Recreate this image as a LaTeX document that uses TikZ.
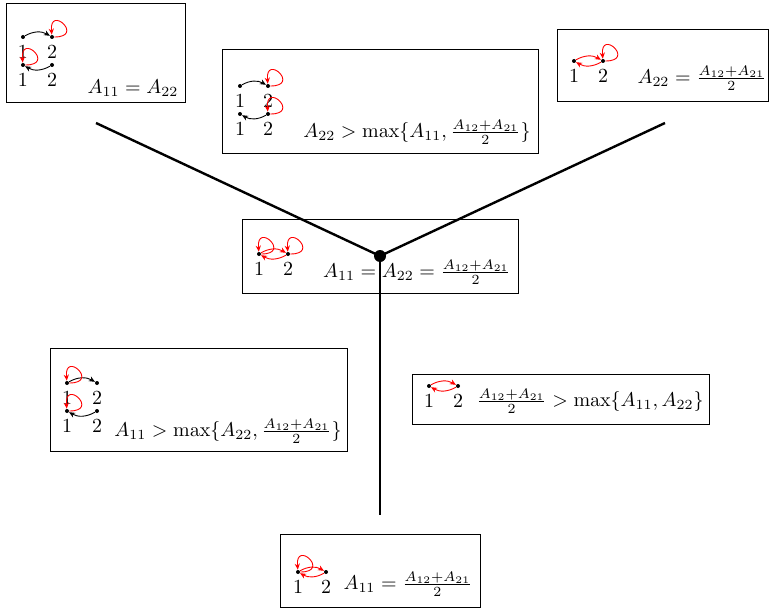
\documentclass[tikz,border=0pt]{standalone}
\usetikzlibrary{arrows.meta}
\begin{document}
\begin{tikzpicture}[x=0.5pt,y=0.5pt,
  panel/.style={draw,line width=0.5pt},
  dot/.style={circle,fill=black,inner sep=0pt,minimum size=2pt},
  lab/.style={inner sep=2.5pt},
  arc/.style={-{Stealth[length=3pt,width=2.6pt]},line width=0.45pt,bend left=30},
  barc/.style={arc,black},
  rarc/.style={arc,red},
  rloop/.style={-{Stealth[length=3pt,width=2.6pt]},line width=0.45pt,red},
  hubline/.style={line width=1.2pt},
  cond/.style={inner sep=0pt}]
\useasboundingbox (0,0) rectangle (770,-610);
% panels
\draw[panel] (6,-4) rectangle (185,-103);
\draw[panel] (222,-50) rectangle (538,-153);
\draw[panel] (557,-30) rectangle (768,-102);
\draw[panel] (242,-219) rectangle (518,-293);
\draw[panel] (50,-348) rectangle (347,-451);
\draw[panel] (412,-374) rectangle (709,-424);
\draw[panel] (280,-534) rectangle (480,-607);
% dot pairs
\newcommand\gpair[5]{%
  \node[dot,label={[lab,name=#1la]below:1}] (#1a) at (#2,-#3) {};
  \node[dot,label={[lab,name=#1lb]below:2}] (#1b) at (#4,-#5) {};}
\newcommand\gloop[1]{\draw[rloop] (#1) .. controls +(0:33) and +(95:33) .. (#1);}
% panel 1
\gpair{p}{23}{37}{52}{37}
\draw[barc] (pa) to (pb); \gloop{pb}
\gpair{q}{23}{65}{52}{65}
\draw[barc] (qb) to (qa); \gloop{qa}
\node[cond] (t1) at (133,-88) {$A_{11}=A_{22}$};
% panel 2
\gpair{r}{240}{86}{268}{86}
\draw[barc] (ra) to (rb); \gloop{rb}
\gpair{s}{240}{114}{268}{114}
\draw[barc] (sb) to (sa); \gloop{sb}
\node[cond] (t2) at (417,-132) {$A_{22}>\max\{A_{11},\frac{A_{12}+A_{21}}{2}\}$};
% panel 3
\gpair{u}{574}{61}{603}{61}
\draw[rarc] (ua) to (ub); \draw[rarc] (ub) to (ua); \gloop{ub}
\node[cond] (t3) at (702,-78) {$A_{22}=\frac{A_{12}+A_{21}}{2}$};
% panel 4 (centre)
\gpair{v}{259}{254}{288}{254}
\draw[rarc] (va) to (vb); \draw[rarc] (vb) to (va); \gloop{va} \gloop{vb}
\node[cond] (t4) at (417,-272) {$A_{11}=A_{22}=\frac{A_{12}+A_{21}}{2}$};
% panel 5
\gpair{w}{67}{383}{97}{383}
\draw[barc] (wa) to (wb); \gloop{wa}
\gpair{y}{67}{411}{97}{411}
\draw[barc] (yb) to (ya); \gloop{ya}
\node[cond] (t5) at (228,-431) {$A_{11}>\max\{A_{22},\frac{A_{12}+A_{21}}{2}\}$};
% panel 6
\gpair{z}{429}{386}{458}{386}
\draw[rarc] (za) to (zb); \draw[rarc] (zb) to (za);
\node[cond] (t6) at (590,-401) {$\frac{A_{12}+A_{21}}{2}>\max\{A_{11},A_{22}\}$};
% panel 7
\gpair{o}{298}{572}{326}{572}
\draw[rarc] (oa) to (ob); \draw[rarc] (ob) to (oa); \gloop{oa}
\node[cond] (t7) at (408,-584) {$A_{11}=\frac{A_{12}+A_{21}}{2}$};
% hub and lines
\node[circle,fill=black,inner sep=0pt,minimum size=6pt] (hub) at (380,-256) {};
\coordinate (eL) at (96,-123);
\coordinate (eR) at (665,-123);
\coordinate (eB) at (380,-515);
\draw[hubline] (eL) -- (hub.center) -- (eR);
\draw[hubline] (hub.center) -- (eB);
\end{tikzpicture}
\end{document}
